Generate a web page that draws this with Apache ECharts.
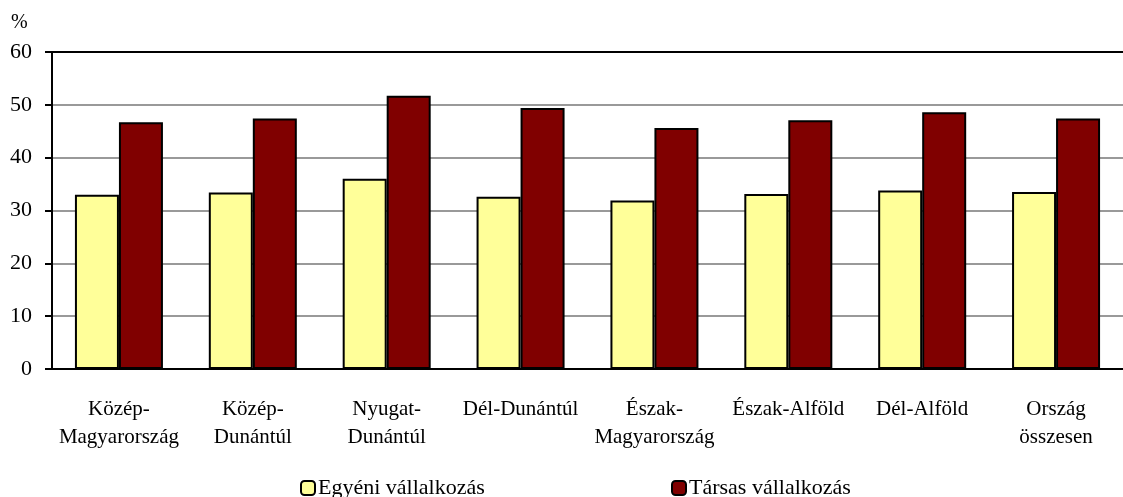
<!DOCTYPE html>
<html>
<head>
    <meta charset="utf-8">
    <script src="https://cdn.jsdelivr.net/npm/echarts@6/dist/echarts.min.js"></script>
    <style>
        html, body { margin: 0; padding: 0; background: #fff; }
    </style>
</head>

<body>
    <div id="main" style="width:1123px; height:497px;"></div>
</body>

<script type="text/javascript">
    // regions (category labels, wrapped like the original)
    const regions = [
        'Közép-\nMagyarország',
        'Közép-\nDunántúl',
        'Nyugat-\nDunántúl',
        'Dél-Dunántúl',
        'Észak-\nMagyarország',
        'Észak-Alföld',
        'Dél-Alföld',
        'Ország\nösszesen'
    ];

    const seriesNames = ['Egyéni vállalkozás', 'Társas vállalkozás'];

    // values in %
    const egyeni = [33.0, 33.4, 36.0, 32.6, 31.9, 33.1, 33.8, 33.5];
    const tarsas = [46.7, 47.4, 51.7, 49.4, 45.6, 47.1, 48.6, 47.4];

    const font = 'Liberation Serif';

    const myChart = echarts.init(document.getElementById('main'));

    let option = {
        animation: false,
        textStyle: { fontFamily: font },
        graphic: [{
            type: 'text',
            left: 11,
            top: 13,
            style: { text: '%', font: '20px "Liberation Serif"', fill: '#000' }
        }],
        legend: [
            {
                data: [seriesNames[0]],
                left: 295,
                top: 472,
                itemWidth: 14,
                itemHeight: 14,
                textStyle: { fontFamily: font, fontSize: 22, color: '#000', padding: [0, 0, 0, -2] }
            },
            {
                data: [seriesNames[1]],
                left: 666,
                top: 472,
                itemWidth: 14,
                itemHeight: 14,
                textStyle: { fontFamily: font, fontSize: 22, color: '#000', padding: [0, 0, 0, -2] }
            }
        ],
        grid: {
            left: 52,
            right: 0,
            top: 52,
            bottom: 128,
            containLabel: false
        },
        xAxis: {
            type: 'category',
            data: regions,
            axisLine: { lineStyle: { color: '#000', width: 2 } },
            axisTick: { length: 7, lineStyle: { color: '#000', width: 2 } },
            axisLabel: {
                margin: 26,
                color: '#000',
                fontFamily: font,
                fontSize: 21,
                lineHeight: 28,
                interval: 0
            }
        },
        yAxis: {
            type: 'value',
            min: 0,
            max: 60,
            interval: 10,
            axisLine: { show: true, lineStyle: { color: '#000', width: 2 } },
            axisTick: { show: true, length: 7, lineStyle: { color: '#000', width: 2 } },
            axisLabel: {
                margin: 20,
                color: '#000',
                fontFamily: font,
                fontSize: 22
            },
            splitLine: {
                show: true,
                lineStyle: {
                    color: ['#999', '#999', '#999', '#999', '#999', '#999', '#000'],
                    width: 2
                }
            }
        },
        series: [
            {
                name: seriesNames[0],
                type: 'bar',
                data: egyeni,
                barWidth: 44,
                barGap: '0%',
                itemStyle: { color: '#FFFF99', borderColor: '#000', borderWidth: 2 }
            },
            {
                name: seriesNames[1],
                type: 'bar',
                data: tarsas,
                barWidth: 44,
                itemStyle: { color: '#800000', borderColor: '#000', borderWidth: 2 }
            }
        ]
    };
    option && myChart.setOption(option);
</script>
</html>
